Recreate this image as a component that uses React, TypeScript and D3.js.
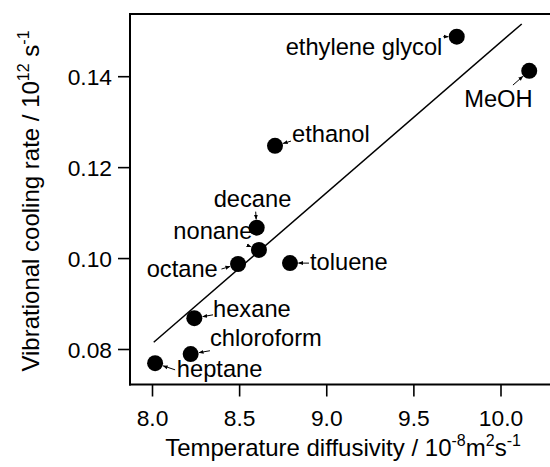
import React from "react";
import * as d3 from "d3";

const solvents = ["ethylene glycol", "MeOH", "ethanol", "decane", "nonane", "octane", "toluene", "hexane", "chloroform", "heptane"];
const diffusivity = [9.746, 10.162, 8.703, 8.598, 8.611, 8.491, 8.789, 8.24, 8.219, 8.015];
const coolingRate = [0.1488, 0.1413, 0.1248, 0.1068, 0.1019, 0.0988, 0.099, 0.0869, 0.079, 0.077];
const fitX = [8.007, 10.119];
const fitY = [0.0816, 0.1516];
const xTicks = [8.0, 8.5, 9.0, 9.5, 10.0];
const yTicks = [0.08, 0.1, 0.12, 0.14];

// label layout: text offset (dx, dy), anchor, arrow tail offset (ax, ay) relative to point in px
const labelLayout = [
  { dx: -14.4, dy: 18.3, anchor: "end", ax: -13.5, ay: 0 },
  { dx: -30.8, dy: 36.3, anchor: "middle", ax: -16.3, ay: 14.3 },
  { dx: 17, dy: -3.7, anchor: "start", ax: 16, ay: -4.7 },
  { dx: -4.2, dy: -20.7, anchor: "middle", ax: -1, ay: -16 },
  { dx: -6.6, dy: -11, anchor: "end", ax: -8.3, ay: -3.3 },
  { dx: -20.3, dy: 12.7, anchor: "end", ax: -16.6, ay: 5 },
  { dx: 20, dy: 6.7, anchor: "start", ax: 19, ay: 0 },
  { dx: 18.7, dy: -1.6, anchor: "start", ax: 18.7, ay: -3.3 },
  { dx: 19.3, dy: -7.6, anchor: "start", ax: 19.3, ay: -3.3 },
  { dx: 21.7, dy: 13.7, anchor: "start", ax: 20, ay: 6.7 },
];

const W = 550;
const H = 467;
const left = 130;
const right = 551;
const top = 14;
const bottom = 384.5;
const R = 8;
const FONT = "'Liberation Sans', Arial, Helvetica, sans-serif";

export default function App() {
  const x = d3.scaleLinear().domain([8, 10]).range([152.5, 501]);
  const y = d3.scaleLinear().domain([0.08, 0.14]).range([349.5, 76.7]);
  const line = d3.line<number>().x((d) => x(fitX[d])).y((d) => y(fitY[d]));

  return (
    <div style={{ position: "fixed", left: 0, top: 0, background: "#fff" }}>
      <svg width={W} height={H} style={{ display: "block", fontFamily: FONT }}>
        <defs>
          <marker id="ah" viewBox="0 0 10 10" refX="9" refY="5" markerWidth="5" markerHeight="5" orient="auto">
            <path d="M0,1 L10,5 L0,9 z" fill="#000" />
          </marker>
        </defs>
        <rect x={0} y={0} width={W} height={H} fill="#fff" />
        {/* frame */}
        <line x1={left} y1={top} x2={right} y2={top} stroke="#000" strokeWidth={2} />
        <line x1={left} y1={top - 1} x2={left} y2={bottom + 1} stroke="#000" strokeWidth={2} />
        <line x1={left - 1} y1={bottom} x2={right} y2={bottom} stroke="#000" strokeWidth={2} />
        {/* x ticks */}
        {xTicks.map((t) => (
          <g key={"xt" + t}>
            <line x1={x(t)} x2={x(t)} y1={bottom} y2={bottom + 12} stroke="#000" strokeWidth={1.6} />
            <text x={x(t)} y={426} textAnchor="middle" fontSize={22.8} fill="#000">
              {d3.format(".1f")(t)}
            </text>
          </g>
        ))}
        {/* y ticks */}
        {yTicks.map((t) => (
          <g key={"yt" + t}>
            <line x1={left - 12} x2={left} y1={y(t)} y2={y(t)} stroke="#000" strokeWidth={1.6} />
            <text x={112} y={y(t) + 8} textAnchor="end" fontSize={22.8} fill="#000">
              {d3.format(".2f")(t)}
            </text>
          </g>
        ))}
        {/* fit line */}
        <path d={line([0, 1]) || ""} fill="none" stroke="#000" strokeWidth={1.5} />
        {/* points */}
        {solvents.map((s, i) => {
          const px = x(diffusivity[i]);
          const py = y(coolingRate[i]);
          const L = labelLayout[i];
          const tx = px + L.ax;
          const ty = py + L.ay;
          const len = Math.hypot(L.ax, L.ay);
          const hx = px + (L.ax / len) * (R + 0.5);
          const hy = py + (L.ay / len) * (R + 0.5);
          return (
            <g key={s}>
              <circle cx={px} cy={py} r={R} fill="#000" />
              <line x1={tx} y1={ty} x2={hx} y2={hy} stroke="#000" strokeWidth={1} markerEnd="url(#ah)" />
              <text x={px + L.dx} y={py + L.dy} textAnchor={L.anchor as any} fontSize={23.7} fill="#000">
                {s}
              </text>
            </g>
          );
        })}
        {/* x title */}
        <text x={343} y={456} textAnchor="middle" fontSize={24} fill="#000">
          Temperature diffusivity / 10
          <tspan dy={-10} fontSize={16}>-8</tspan>
          <tspan dy={10}>m</tspan>
          <tspan dy={-10} fontSize={16}>2</tspan>
          <tspan dy={10}>s</tspan>
          <tspan dy={-10} fontSize={16}>-1</tspan>
        </text>
        {/* y title */}
        <text transform="translate(38.5,201) rotate(-90)" textAnchor="middle" fontSize={24} fill="#000">
          Vibrational cooling rate / 10
          <tspan dy={-10} fontSize={16}>12</tspan>
          <tspan dy={10}> s</tspan>
          <tspan dy={-10} fontSize={16}>-1</tspan>
        </text>
      </svg>
    </div>
  );
}
